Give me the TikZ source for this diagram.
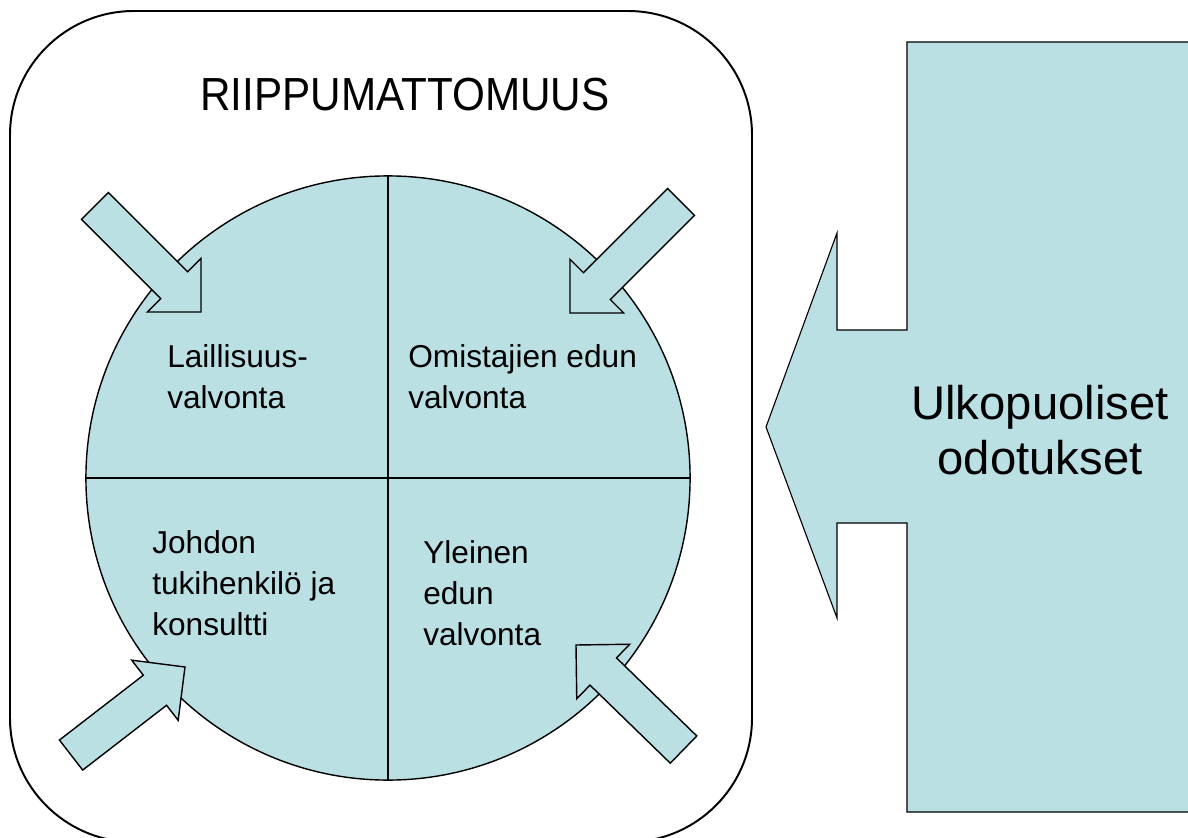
\documentclass[tikz,border=0pt]{standalone}
\usepackage{fontspec}
\setmainfont{Liberation Sans}
\definecolor{pale}{RGB}{187,224,227}

\begin{document}
\begin{tikzpicture}[x=0.025cm,y=0.025cm,
 lbl/.style={align=left,anchor=west,inner sep=0pt,font=\fontsize{22.5}{29}\selectfont},
 ar/.style={draw,fill=pale,line width=1pt,line join=miter},
 barrow/.pic={\path[ar] (0,0) -- (-38,38) -- (-38,19) -- (-#1,19) -- (-#1,-19) -- (-38,-19) -- (-38,-38) -- cycle;}]
\useasboundingbox (0,0) rectangle (1188,837);
\clip (0,0) rectangle (1188,837);
% frame and disc
\draw[line width=1.4pt,rounded corners=3.1cm] (10,-5) rectangle (752,826);
\node[circle,draw,fill=pale,line width=1pt,minimum size=15.1cm,inner sep=0pt] (disc) at (388,359) {};
\draw[line width=1pt] (disc.north) -- (disc.south);
\draw[line width=1pt] (disc.west) -- (disc.east);
% small arrows
\pic[rotate=-45] at (201,525) {barrow=150};
\pic[rotate=-135] at (570,524) {barrow=157};
\pic[rotate=37.7] at (185,170) {barrow=144};
\pic[rotate=135.8] at (576,192) {barrow=150};
% big arrow
\path[ar,line width=0.8pt] (766,410) -- (837,604) -- (837,507) -- (907,507) -- (907,795)
 -- (1200,795) -- (1200,25) -- (907,25) -- (907,314) -- (837,314) -- (837,219) -- cycle;
\node[align=center,inner sep=0pt,font=\fontsize{33.6}{39}\selectfont] (ext) at (1040,407) {Ulkopuoliset\\odotukset};
% texts
\node[font=\fontsize{33}{40}\selectfont,xscale=0.91,transform shape] (title) at (405,742) {RIIPPUMATTOMUUS};
\node[lbl] (law) at (167,460) {Laillisuus-\\valvonta};
\node[lbl] (own) at (408,460) {Omistajien edun\\valvonta};
\node[lbl] (mgmt) at (152,254) {Johdon\\tukihenkilö ja\\konsultti};
\node[lbl] (pub) at (423,244) {Yleinen\\edun\\valvonta};
\end{tikzpicture}
\end{document}
